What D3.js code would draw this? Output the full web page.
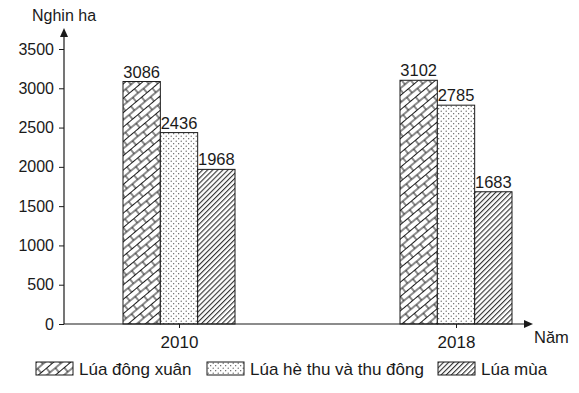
<!DOCTYPE html>
<html>
<head>
<meta charset="utf-8">
<script src="https://cdn.jsdelivr.net/npm/d3@7"></script>
<style>
  body { margin: 0; background: #fff; }
  svg text { font-family: "Liberation Sans", Arial, sans-serif; fill: #1a1a1a; }
</style>
</head>
<body>
<div id="chart"></div>
<script>
// DATA ----------------------------------------------
const years = ["2010", "2018"];
const series = ["Lúa đông xuân", "Lúa hè thu và thu đông", "Lúa mùa"];
const dongXuan = [3086, 3102];
const heThu = [2436, 2785];
const luaMua = [1968, 1683];
const yTicks = [0, 500, 1000, 1500, 2000, 2500, 3000, 3500];

// LAYOUT --------------------------------------------
const W = 579, H = 393;
const axisX = 64, axisY = 324, yTop = 49, arrowTop = 28, xEnd = 533;
const groupLeft = 179, groupRight = 456, groupHalf = 56;
const ink = "#1a1a1a";

const svg = d3.select("#chart").append("svg")
    .attr("width", W)
    .attr("height", H);

// Patterns
const defs = svg.append("defs");
// brick / zigzag
const brick = defs.append("pattern")
    .attr("id", "pBrick")
    .attr("patternUnits", "userSpaceOnUse")
    .attr("width", 14).attr("height", 11)
    .attr("patternTransform", "rotate(-40)");
brick.append("rect").attr("width", 14).attr("height", 11).attr("fill", "#fff");
brick.append("path")
    .attr("d", "M0,0.5H14 M0,6H14 M4,0.5V6 M11,6V11.5")
    .attr("stroke", ink).attr("stroke-width", 1).attr("fill", "none");
// dots
const dots = defs.append("pattern")
    .attr("id", "pDots")
    .attr("patternUnits", "userSpaceOnUse")
    .attr("width", 5).attr("height", 5);
dots.append("rect").attr("width", 5).attr("height", 5).attr("fill", "#fff");
dots.append("circle").attr("cx", 1.2).attr("cy", 1.2).attr("r", 0.6).attr("fill", "#444");
dots.append("circle").attr("cx", 3.7).attr("cy", 3.7).attr("r", 0.6).attr("fill", "#444");
// diagonal stripes
const stripes = defs.append("pattern")
    .attr("id", "pStripes")
    .attr("patternUnits", "userSpaceOnUse")
    .attr("width", 3.6).attr("height", 3.6)
    .attr("patternTransform", "rotate(45)");
stripes.append("rect").attr("width", 3.6).attr("height", 3.6).attr("fill", "#fff");
stripes.append("line").attr("x1", 0.6).attr("x2", 0.6).attr("y1", 0).attr("y2", 3.6)
    .attr("stroke", ink).attr("stroke-width", 1);

const fills = ["url(#pBrick)", "url(#pDots)", "url(#pStripes)"];

// SCALES --------------------------------------------
const y = d3.scaleLinear().domain([0, 3500]).range([axisY, yTop]);
const x = d3.scalePoint().domain(years).range([groupLeft, groupRight]);
const xInner = d3.scaleBand().domain(series).range([-groupHalf, groupHalf]);

// Y axis
const yAxis = svg.append("g")
    .attr("transform", `translate(${axisX},0)`)
    .call(d3.axisLeft(y).tickValues(yTicks).tickFormat(d3.format("d"))
        .tickSizeInner(5).tickSizeOuter(0).tickPadding(5));
yAxis.select(".domain").remove();
yAxis.selectAll(".tick line").attr("stroke", ink);
yAxis.selectAll(".tick text")
    .style("font-size", "16px")
    .style("font-family", '"Liberation Sans", Arial, sans-serif')
    .attr("fill", ink);

svg.append("line")
    .attr("x1", axisX).attr("x2", axisX)
    .attr("y1", axisY).attr("y2", arrowTop + 6)
    .attr("stroke", ink).attr("stroke-width", 1.2);
svg.append("path")
    .attr("d", `M${axisX},${arrowTop} L${axisX - 4},${arrowTop + 9} L${axisX + 4},${arrowTop + 9} Z`)
    .attr("fill", ink);
svg.append("text")
    .attr("x", 32).attr("y", 21)
    .style("font-size", "16px")
    .text("Nghin ha");

// BARS ----------------------------------------------
const values = [dongXuan, heThu, luaMua];
const rows = [];
years.forEach((yr, i) => {
    series.forEach((s, j) => rows.push({year: yr, series: s, k: j, value: values[j][i]}));
});

const bars = svg.append("g");
bars.selectAll("rect")
    .data(rows)
    .enter()
    .append("rect")
    .attr("x", d => x(d.year) + xInner(d.series))
    .attr("y", d => y(d.value))
    .attr("width", xInner.bandwidth())
    .attr("height", d => axisY - y(d.value))
    .attr("fill", d => fills[d.k])
    .attr("stroke", ink)
    .attr("stroke-width", 1);

bars.selectAll("text")
    .data(rows)
    .enter()
    .append("text")
    .attr("x", d => x(d.year) + xInner(d.series) + xInner.bandwidth() / 2)
    .attr("y", d => y(d.value) - 4)
    .attr("text-anchor", "middle")
    .style("font-size", "16.5px")
    .text(d => d.value);

// X axis
const xAxis = svg.append("g")
    .attr("transform", `translate(0,${axisY})`)
    .call(d3.axisBottom(x).tickSizeInner(4).tickSizeOuter(0).tickPadding(8));
xAxis.select(".domain").remove();
xAxis.selectAll(".tick line").attr("stroke", ink);
xAxis.selectAll(".tick text")
    .style("font-size", "17px")
    .style("font-family", '"Liberation Sans", Arial, sans-serif')
    .attr("fill", ink);

svg.append("line")
    .attr("x1", axisX).attr("x2", xEnd - 6)
    .attr("y1", axisY).attr("y2", axisY)
    .attr("stroke", ink).attr("stroke-width", 1.2);
svg.append("path")
    .attr("d", `M${xEnd},${axisY} L${xEnd - 9},${axisY - 4} L${xEnd - 9},${axisY + 4} Z`)
    .attr("fill", ink);
svg.append("text")
    .attr("x", 534).attr("y", 343)
    .style("font-size", "16.5px")
    .text("Năm");

// LEGEND --------------------------------------------
const legendX = [36, 207, 438];
const legend = svg.append("g")
    .selectAll("g")
    .data(series)
    .enter()
    .append("g")
    .attr("transform", (d, i) => `translate(${legendX[i]},362)`);
legend.append("rect")
    .attr("width", 37).attr("height", 13)
    .attr("fill", (d, i) => fills[i])
    .attr("stroke", ink).attr("stroke-width", 1);
legend.append("text")
    .attr("x", 43).attr("y", 13)
    .style("font-size", "17px")
    .text(d => d);
</script>
</body>
</html>
